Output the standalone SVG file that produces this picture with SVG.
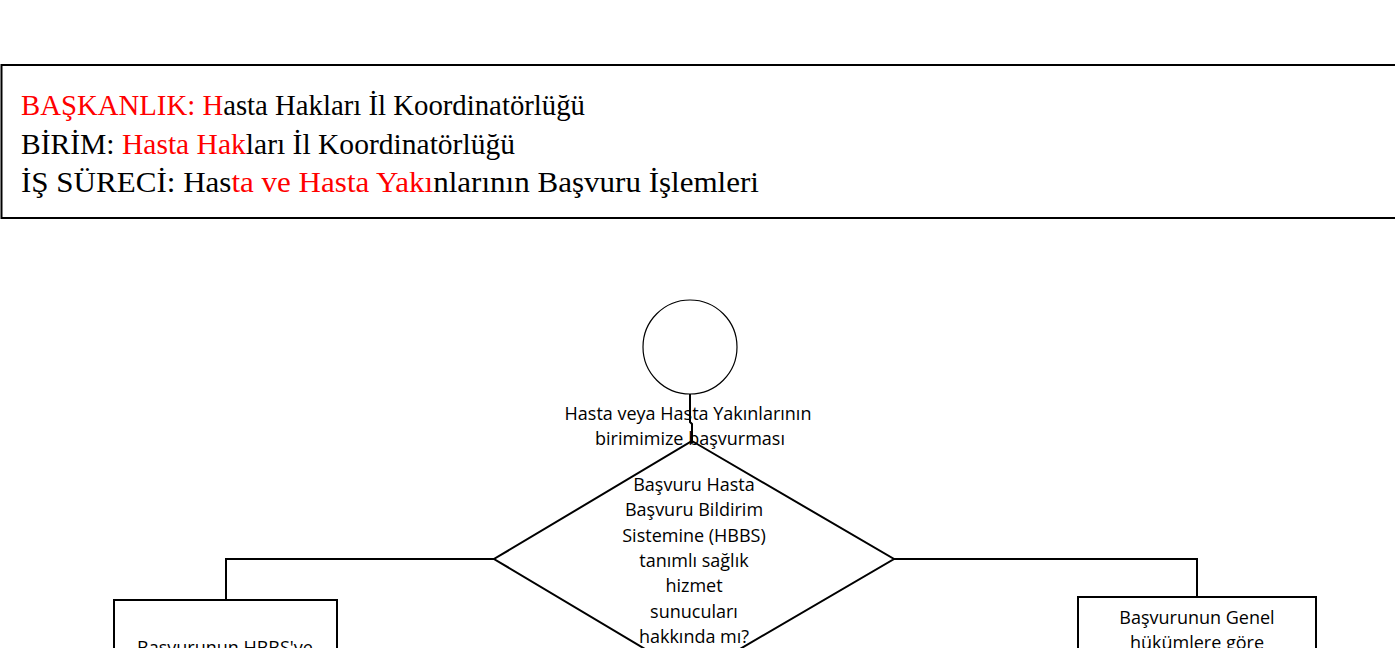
<svg xmlns="http://www.w3.org/2000/svg" width="1395" height="648" viewBox="0 0 1395 648">
<style>
.hdr{font-family:"Liberation Serif",serif;font-size:29px;fill:#000}
.r{fill:#ff0000}
.t{font-family:"Open Sans","Liberation Sans",sans-serif;font-size:18px;fill:#000;text-anchor:middle}
.shape{fill:none;stroke:#000;stroke-width:2}
.conn{fill:none;stroke:#000;stroke-width:2}
</style>
<rect width="1395" height="648" fill="#fff"/>
<g id="header">
<path d="M1400,65 H1.5 V218 H1400" fill="none" stroke="#000" stroke-width="2"/>
<text class="hdr" x="21" y="115" textLength="564" lengthAdjust="spacingAndGlyphs"><tspan class="r">BAŞKANLIK: H</tspan>asta Hakları İl Koordinatörlüğü</text>
<text class="hdr" x="21" y="154" textLength="494" lengthAdjust="spacingAndGlyphs">BİRİM: <tspan class="r">Hasta Hak</tspan>ları İl Koordinatörlüğü</text>
<text class="hdr" x="21" y="192" textLength="738" lengthAdjust="spacingAndGlyphs">İŞ SÜRECİ: Has<tspan class="r">ta ve Hasta Yakı</tspan>nlarının Başvuru İşlemleri</text>
</g>
<g id="connectors">
<path class="conn" d="M690,394 V422 L692,424 V443"/>
<path class="conn" d="M494,559 H226 V600"/>
<path class="conn" d="M894,559 H1197 V597"/>
</g>
<g id="start">
<circle cx="690" cy="347" r="47" fill="none" stroke="#000" stroke-width="1.2"/>
<text class="t" x="688" y="420">Hasta veya Hasta Yakınlarının</text>
<text class="t" x="690" y="445">birimimize başvurması</text>
</g>
<g id="decision">
<polygon class="shape" points="692,441 894,559 692,677 494,559"/>
<text class="t" x="694" y="491">Başvuru Hasta</text>
<text class="t" x="694" y="516">Başvuru Bildirim</text>
<text class="t" x="694" y="542">Sistemine (HBBS)</text>
<text class="t" x="694" y="567">tanımlı sağlık</text>
<text class="t" x="694" y="592">hizmet</text>
<text class="t" x="694" y="618">sunucuları</text>
<text class="t" x="694" y="643">hakkında mı?</text>
</g>
<g id="box-left">
<rect class="shape" x="114" y="600" width="223" height="80"/>
<text class="t" x="225" y="654">Başvurunun HBBS'ye</text>
</g>
<g id="box-right">
<rect class="shape" x="1078" y="597" width="238" height="80"/>
<text class="t" x="1197" y="624">Başvurunun Genel</text>
<text class="t" x="1197" y="649">hükümlere göre</text>
</g>
</svg>
